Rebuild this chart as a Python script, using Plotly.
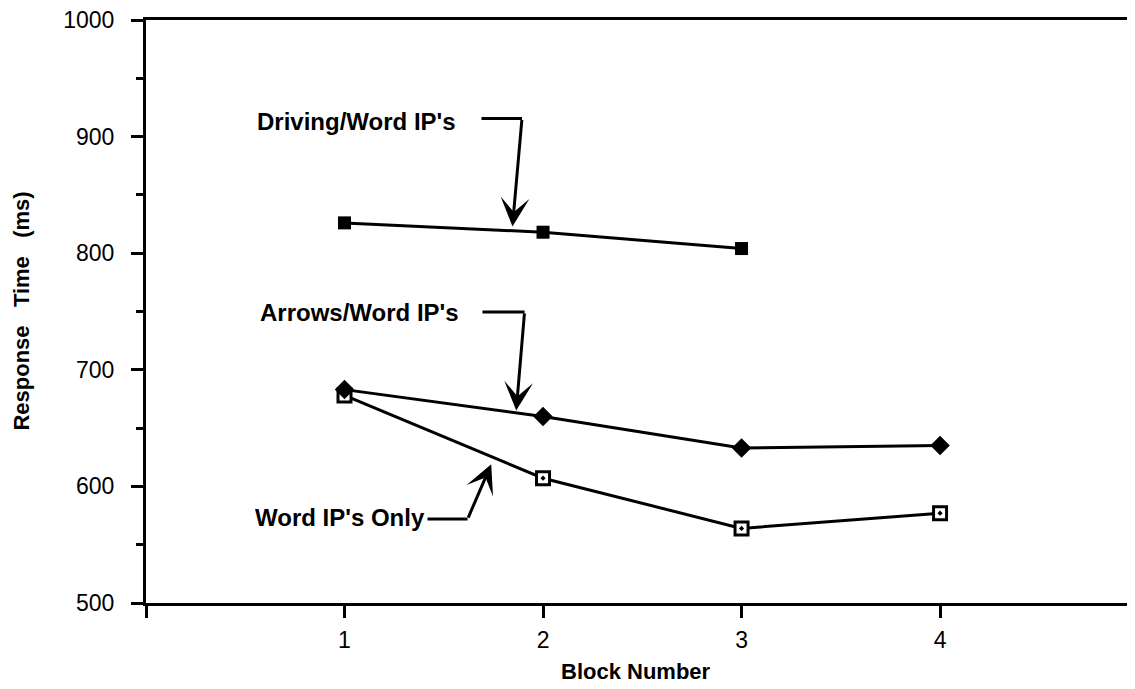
import plotly.graph_objects as go

# ---- data ----
blocks_driving = [1, 2, 3]
driving_word = [826, 818, 804]
blocks = [1, 2, 3, 4]
arrows_word = [683, 660, 633, 635]
word_only = [678, 607, 564, 577]

y_ticks = [500, 600, 700, 800, 900, 1000]
x_ticks = [0, 1, 2, 3, 4]
x_ticktext = ["", "1", "2", "3", "4"]

# label callouts: (text, text_x, text_y, seg_x0, seg_x1, seg_y, tip_x, tip_y)
callouts = [
    ("Driving/Word IP's", 1.06, 913, 1.69, 1.894, 915.6, 1.846, 823),
    ("Arrows/Word IP's", 1.073, 749.4, 1.695, 1.907, 749.6, 1.865, 665),
    ("Word IP's Only", 0.978, 573.4, 1.418, 1.620, 572, 1.739, 619),
]

FONT = "Liberation Sans, Arial, Helvetica, sans-serif"

fig = go.Figure()

fig.add_trace(go.Scatter(
    x=blocks, y=word_only, mode="lines+markers", name="Word IP's Only",
    line=dict(color="black", width=3),
    marker=dict(symbol="square-dot", size=13, color="white",
                line=dict(color="black", width=3)),
))
fig.add_trace(go.Scatter(
    x=blocks, y=arrows_word, mode="lines+markers", name="Arrows/Word IP's",
    line=dict(color="black", width=3),
    marker=dict(symbol="diamond", size=15, color="black"),
))
fig.add_trace(go.Scatter(
    x=blocks_driving, y=driving_word, mode="lines+markers", name="Driving/Word IP's",
    line=dict(color="black", width=3),
    marker=dict(symbol="square", size=13, color="black"),
))

for text, tx, ty, sx0, sx1, sy, px, py in callouts:
    fig.add_annotation(x=tx, y=ty, xref="x", yref="y", text=f"<b>{text}</b>",
                       showarrow=False, font=dict(family=FONT, size=24, color="black"),
                       xanchor="center", yanchor="middle")
    fig.add_shape(type="line", xref="x", yref="y", x0=sx0, x1=sx1, y0=sy, y1=sy,
                  line=dict(color="black", width=3))
    fig.add_annotation(x=px, y=py, xref="x", yref="y", ax=sx1, ay=sy,
                       axref="x", ayref="y", text="", showarrow=True,
                       arrowhead=3, arrowsize=1.6, arrowwidth=3, arrowcolor="black")

fig.add_annotation(x=0.495, y=-0.118, xref="paper", yref="paper",
                   text="<b>Block Number</b>", showarrow=False,
                   font=dict(family=FONT, size=22, color="black"),
                   xanchor="center", yanchor="middle")
fig.add_annotation(x=-0.1263, y=0.50, xref="paper", yref="paper",
                   text="<b>Response\u00a0\u00a0 Time\u00a0\u00a0 (ms)</b>", showarrow=False,
                   textangle=-90,
                   font=dict(family=FONT, size=22, color="black"),
                   xanchor="center", yanchor="middle")

# the page body has an 8px margin, so the figure is sized and offset to fit the window
fig.update_layout(
    width=1127, height=681,
    margin=dict(l=138, r=0, t=12, b=86),
    plot_bgcolor="white", paper_bgcolor="white",
    showlegend=False,
    font=dict(family=FONT, size=23, color="black"),
    xaxis=dict(range=[0, 4.982], tickvals=x_ticks, ticktext=x_ticktext,
               showgrid=False, zeroline=False, showline=True, linecolor="black",
               linewidth=3, mirror=True, ticks="outside", ticklen=12, tickwidth=2.5,
               tickcolor="black", ticklabelstandoff=2, ticklabeloverflow="allow"),
    yaxis=dict(range=[500, 1000], tickvals=y_ticks,
               showgrid=False, zeroline=False, showline=True, linecolor="black",
               linewidth=3, ticks="outside", ticklen=12, tickwidth=2.5,
               tickcolor="black", ticklabelstandoff=12, ticklabeloverflow="allow",
               minor=dict(dtick=50, ticks="outside", ticklen=7, tickwidth=2.5,
                          tickcolor="black", showgrid=False)),
)

fig.write_html("out.html")
